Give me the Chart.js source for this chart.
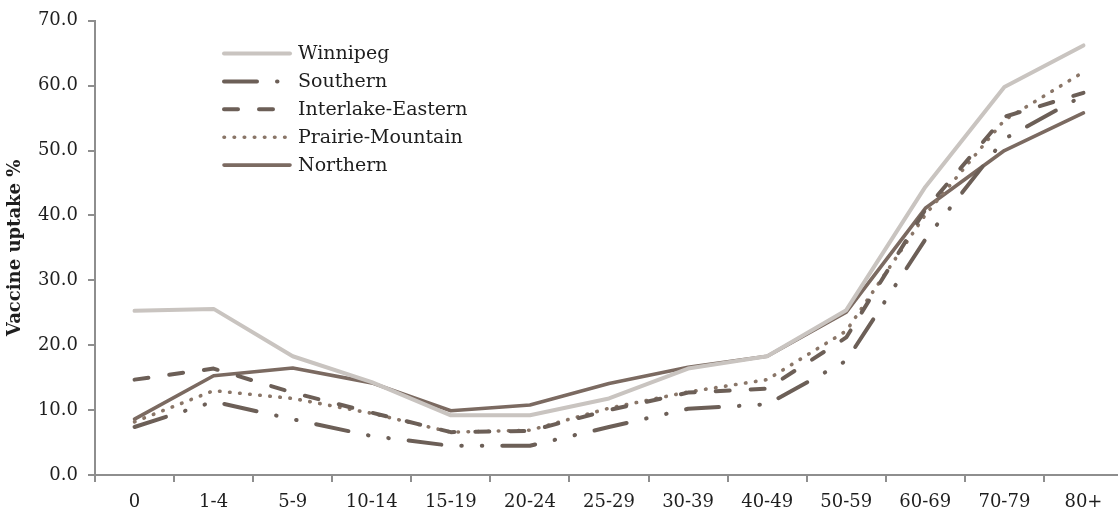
<!DOCTYPE html>
<html>
<head>
<meta charset="utf-8">
<script src="https://cdn.jsdelivr.net/npm/chart.js@4/dist/chart.umd.min.js"></script>
<style>
  html, body { margin: 0; padding: 0; background: #ffffff; overflow: hidden; }
  canvas { display: block; }
</style>
</head>
<body>
<canvas id="uptake" width="1123" height="512"></canvas>
<script>
// Age groups along the horizontal axis
const ageGroups = ['0', '1-4', '5-9', '10-14', '15-19', '20-24', '25-29',
                   '30-39', '40-49', '50-59', '60-69', '70-79', '80+'];

// Vaccine uptake (%) by health region
const winnipeg         = [25.3, 25.6, 18.3, 14.3, 9.2, 9.2, 11.8, 16.4, 18.3, 25.4, 44.4, 59.8, 66.2];
const southern         = [7.4, 11.3, 8.6, 6.0, 4.5, 4.5, 7.4, 10.2, 10.9, 17.6, 36.3, 51.8, 58.5];
const interlakeEastern = [14.7, 16.4, 12.7, 9.6, 6.6, 6.8, 10.0, 12.7, 13.3, 21.2, 40.9, 55.2, 58.9];
const prairieMountain  = [8.2, 13.0, 11.8, 9.5, 6.6, 6.9, 10.3, 12.8, 14.7, 22.2, 40.1, 54.7, 62.1];
const northern         = [8.6, 15.3, 16.5, 14.2, 9.9, 10.8, 14.1, 16.6, 18.3, 25.1, 41.1, 50.0, 55.8];

const regionNames = ['Winnipeg', 'Southern', 'Interlake-Eastern', 'Prairie-Mountain', 'Northern'];

const serif = '"DejaVu Serif", "Liberation Serif", serif';
const axisGrey = '#8e8e8e';
const textColor = '#1e1e1e';

function series(label, data, color, width, dash) {
  return {
    label, data,
    borderColor: color,
    backgroundColor: color,
    borderWidth: width,
    borderDash: dash,
    borderCapStyle: 'round',
    borderJoinStyle: 'round',
    pointRadius: 0,
    pointHoverRadius: 0,
    tension: 0,
    fill: false
  };
}

// Legend drawn inside the plot, upper left
const insetLegend = {
  id: 'insetLegend',
  afterDraw(chart) {
    const ctx = chart.ctx;
    const x0 = 224, x1 = 290, tx = 298, y0 = 53.5, step = 27.9;
    chart.data.datasets.forEach((ds, i) => {
      const y = y0 + i * step;
      ctx.save();
      ctx.strokeStyle = ds.borderColor;
      ctx.lineWidth = ds.borderWidth;
      ctx.lineCap = 'round';
      ctx.setLineDash(ds.borderDash || []);
      ctx.beginPath();
      ctx.moveTo(x0, y);
      ctx.lineTo(x1, y);
      ctx.stroke();
      ctx.setLineDash([]);
      ctx.fillStyle = textColor;
      ctx.font = '19px ' + serif;
      ctx.textBaseline = 'middle';
      ctx.textAlign = 'left';
      ctx.fillText(ds.label, tx, y + 1);
      ctx.restore();
    });
  }
};

new Chart(document.getElementById('uptake'), {
  type: 'line',
  data: {
    labels: ageGroups,
    datasets: [
      series(regionNames[0], winnipeg, '#c9c4c0', 4, []),
      series(regionNames[1], southern, '#6c5f57', 4, [33, 20, 0.5, 20, 0.5, 20]),
      series(regionNames[2], interlakeEastern, '#6c5f57', 4, [14, 21]),
      series(regionNames[3], prairieMountain, '#8a7668', 3.6, [0.5, 9.6]),
      series(regionNames[4], northern, '#7b6a61', 3.6, [])
    ]
  },
  options: {
    responsive: false,
    animation: false,
    devicePixelRatio: 1,
    layout: { padding: { top: 19, right: 0, bottom: 0, left: 0 } },
    plugins: {
      legend: { display: false },
      tooltip: { enabled: false }
    },
    scales: {
      x: {
        type: 'category',
        offset: true,
        grid: {
          offset: true,
          drawOnChartArea: false,
          drawTicks: true,
          tickLength: 7,
          color: axisGrey,
          lineWidth: 2
        },
        border: { display: true, color: axisGrey, width: 2 },
        ticks: {
          color: textColor,
          font: { family: serif, size: 18 },
          padding: 10,
          maxRotation: 0,
          autoSkip: false
        },
        afterFit(scale) { scale.height = 37; }
      },
      y: {
        min: 0,
        max: 70,
        grid: {
          drawOnChartArea: false,
          drawTicks: true,
          tickLength: 7,
          color: axisGrey,
          lineWidth: 2
        },
        border: { display: true, color: axisGrey, width: 2 },
        ticks: {
          stepSize: 10,
          color: textColor,
          font: { family: serif, size: 18 },
          padding: 10,
          callback: (v) => Number(v).toFixed(1)
        },
        title: {
          display: true,
          text: 'Vaccine uptake %',
          color: textColor,
          font: { family: serif, size: 18, weight: 'bold' },
          padding: { top: 5, bottom: 0 }
        },
        afterFit(scale) { scale.width = 95; }
      }
    }
  },
  plugins: [insetLegend]
});
</script>
</body>
</html>
